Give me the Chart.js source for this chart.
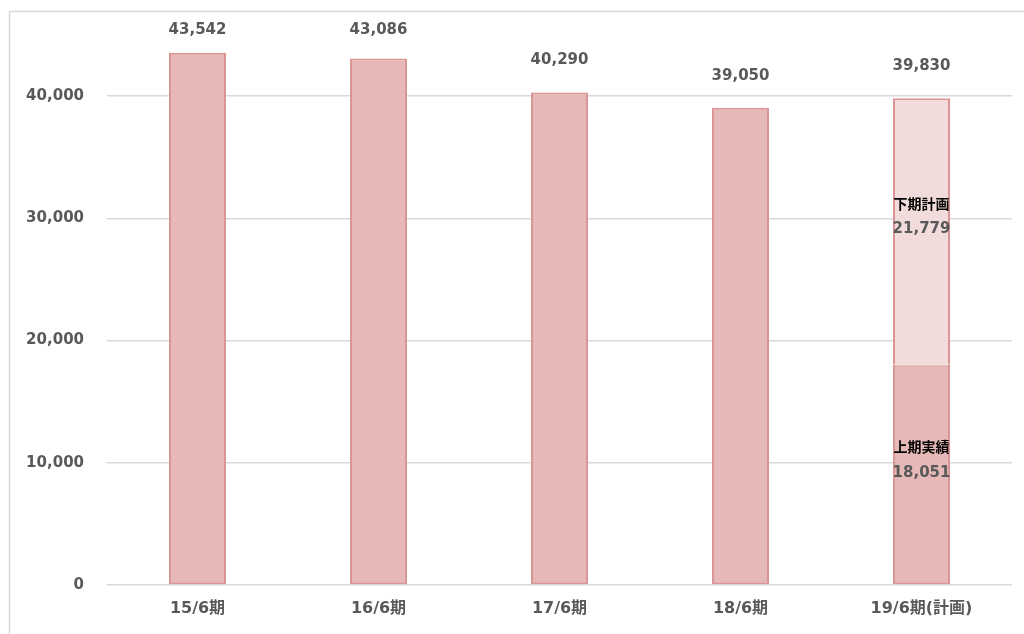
<!DOCTYPE html>
<html>
<head>
<meta charset="utf-8">
<script src="https://cdn.jsdelivr.net/npm/chart.js@4/dist/chart.umd.min.js"></script>
<style>
  html, body { margin: 0; padding: 0; background: #fff; }
  #wrap { width: 1024px; height: 634px; position: relative; }
</style>
</head>
<body>
<div id="wrap"><canvas id="chart" width="1024" height="634"></canvas></div>
<script>
// データ
const periods = ["15/6期", "16/6期", "17/6期", "18/6期", "19/6期(計画)"];
const firstHalf = [43542, 43086, 40290, 39050, 18051];   // 通期実績 / 上期実績
const secondHalf = [null, null, null, null, 21779];      // 下期計画
const segmentNames = ["上期実績", "下期計画"];
const yTicks = [0, 10000, 20000, 30000, 40000];

const GREY = "#595959";
const FONT = "'DejaVu Sans', Verdana, sans-serif";
const fmt = v => v.toLocaleString("en-US");

// 枠線
const framePlugin = {
  id: "frame",
  beforeDraw(chart) {
    const ctx = chart.ctx;
    ctx.save();
    ctx.strokeStyle = "#D9D9D9";
    ctx.lineWidth = 1.5;
    ctx.beginPath();
    ctx.moveTo(9.5, 700);
    ctx.lineTo(9.5, 11.5);
    ctx.lineTo(1100, 11.5);
    ctx.stroke();
    ctx.restore();
  }
};

// ラベル描画
const labelPlugin = {
  id: "labels",
  afterDatasetsDraw(chart) {
    const ctx = chart.ctx;
    const y = chart.scales.y;
    ctx.save();
    ctx.textAlign = "center";
    ctx.textBaseline = "middle";
    periods.forEach((p, i) => {
      const vals = [firstHalf[i], secondHalf[i]];
      const total = vals.reduce((s, v) => s + (v || 0), 0);
      const x = chart.getDatasetMeta(0).data[i].x;
      ctx.font = "bold 15px " + FONT;
      ctx.fillStyle = GREY;
      // 上端ではラベルが枠内に収まるよう押し下げ
      ctx.fillText(fmt(total), x, Math.max(30, y.getPixelForValue(total) - 32));

      const parts = vals.filter(v => v != null);
      if (parts.length > 1) {
        let base = 0;
        vals.forEach((v, d) => {
          if (v == null) return;
          const cy = (y.getPixelForValue(base) + y.getPixelForValue(base + v)) / 2;
          ctx.font = "bold 14px 'Noto Sans CJK JP', sans-serif";
          ctx.fillStyle = "#000";
          ctx.fillText(segmentNames[d], x, cy - 28);
          ctx.font = "bold 15px " + FONT;
          ctx.fillStyle = GREY;
          ctx.fillText(fmt(v), x, cy - 2);
          base += v;
        });
      }
    });
    ctx.restore();
  }
};

new Chart(document.getElementById("chart").getContext("2d"), {
  type: "bar",
  data: {
    labels: periods,
    datasets: [
      {
        label: segmentNames[0],
        data: firstHalf,
        backgroundColor: "#E6B8B7",
        borderColor: "#DA9694",
        borderWidth: 2,
        borderSkipped: c => secondHalf[c.dataIndex] != null ? "top" : false,
        barPercentage: 0.315,
        categoryPercentage: 1
      },
      {
        label: segmentNames[1],
        data: secondHalf,
        backgroundColor: "#F2DCDB",
        borderColor: "#DA9694",
        borderWidth: 2,
        borderSkipped: "bottom",
        barPercentage: 0.315,
        categoryPercentage: 1
      }
    ]
  },
  options: {
    responsive: false,
    animation: false,
    layout: { padding: { top: 35, right: 12, bottom: 0, left: 0 } },
    plugins: {
      legend: { display: false },
      tooltip: { enabled: false }
    },
    scales: {
      x: {
        stacked: true,
        grid: { display: false, drawTicks: false },
        border: { display: false },
        ticks: {
          color: GREY,
          font: { family: "'DejaVu Sans', 'Noto Sans CJK JP', sans-serif", size: 16, weight: "bold" },
          padding: 14
        },
        afterFit(scale) { scale.height = 49; }
      },
      y: {
        stacked: true,
        min: 0,
        max: 45000,
        grid: { color: "#D9D9D9", lineWidth: 1.5, drawTicks: false },
        border: { display: false },
        ticks: {
          color: GREY,
          font: { family: FONT, size: 15, weight: "bold" },
          padding: 23,
          callback: v => fmt(v)
        },
        afterBuildTicks(scale) {
          scale.ticks = yTicks.map(v => ({ value: v }));
        },
        afterFit(scale) { scale.width = 107; }
      }
    }
  },
  plugins: [framePlugin, labelPlugin]
});
</script>
</body>
</html>
